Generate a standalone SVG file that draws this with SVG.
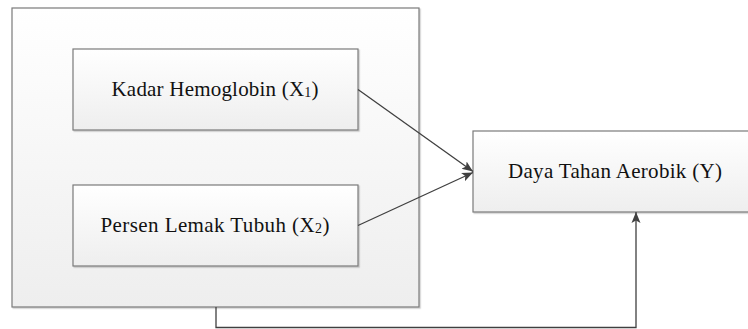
<svg xmlns="http://www.w3.org/2000/svg" width="748" height="329" viewBox="0 0 748 329">
<defs>
<linearGradient id="g" x1="0" y1="0" x2="0" y2="1">
<stop offset="0" stop-color="#ffffff"/>
<stop offset="1" stop-color="#eeeeee"/>
</linearGradient>
<filter id="sh" x="-5%" y="-5%" width="110%" height="115%">
<feDropShadow dx="1.2" dy="1.2" stdDeviation="0.7" flood-color="#000" flood-opacity="0.2"/>
</filter>
<marker id="arr" markerWidth="12" markerHeight="12" refX="11" refY="6" orient="auto" markerUnits="userSpaceOnUse">
<path d="M0,1.5 L11,6 L0,10.5 L2.5,6 Z" fill="#404040"/>
</marker>
</defs>
<style>
.box{fill:url(#g);stroke:#7a7a7a;stroke-width:1.2;filter:url(#sh)}
.t{font-family:"Liberation Serif","DejaVu Serif",serif;font-size:21px;fill:#111;text-anchor:middle}
.sub{font-size:14px}
.c{fill:none;stroke:#404040;stroke-width:1.3}
</style>
<g id="outer"><rect class="box" x="12" y="8" width="407" height="299"/></g>
<g id="x1">
<rect class="box" x="73" y="49" width="285" height="81"/>
<text class="t" x="215" y="96" textLength="207" lengthAdjust="spacing">Kadar Hemoglobin (X<tspan class="sub" dy="1">1</tspan><tspan dy="-1">)</tspan></text>
</g>
<g id="x2">
<rect class="box" x="73" y="185" width="285" height="81"/>
<text class="t" x="215" y="232" textLength="229" lengthAdjust="spacing">Persen Lemak Tubuh (X<tspan class="sub" dy="1">2</tspan><tspan dy="-1">)</tspan></text>
</g>
<g id="y">
<rect class="box" x="473" y="131" width="285" height="81"/>
<text class="t" x="615" y="178" textLength="214" lengthAdjust="spacing">Daya Tahan Aerobik (Y)</text>
</g>
<g id="connectors">
<path class="c" d="M358,89.5 L473,171.5" marker-end="url(#arr)"/>
<path class="c" d="M358,225.5 L473,172.5" marker-end="url(#arr)"/>
<path class="c" d="M216,307 L216,327.5 L636,327.5 L636,212" marker-end="url(#arr)"/>
</g>
</svg>
